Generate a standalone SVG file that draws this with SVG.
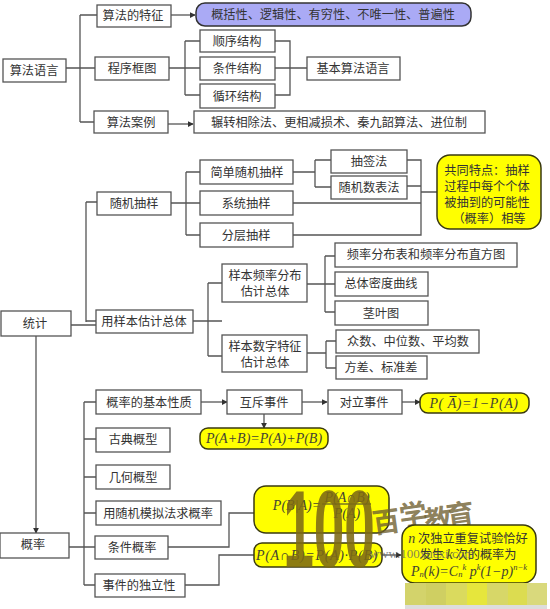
<svg xmlns="http://www.w3.org/2000/svg" width="550" height="609" viewBox="0 0 550 609">
<defs>
<style>
text{font-family:"Noto Sans CJK SC","Liberation Sans",sans-serif;font-size:12.2px;fill:#333;text-anchor:middle;dominant-baseline:central}
.b rect{fill:#fff;stroke:#555;stroke-width:1.3}
.y rect{fill:#ffff00;stroke:#3a3a10;stroke-width:1.5}
.p rect{fill:#aaaaf5;stroke:#333;stroke-width:1.5}
text.m,tspan.m{font-family:"Liberation Serif",serif;font-style:italic;font-size:14px;fill:#443}
tspan.s{font-size:8.5px}
#connectors path{fill:none;stroke:#555;stroke-width:1.3}
.w{fill:#7d6a14;fill-opacity:.88}
.c{fill:#6f6030;fill-opacity:.8;font-size:28px;font-weight:700}
</style>
<marker id="a" viewBox="0 0 8 8" refX="7" refY="4" markerWidth="6" markerHeight="6" markerUnits="userSpaceOnUse" orient="auto"><path d="M0 0L8 4L0 8z" fill="#333"/></marker>
</defs>
<rect width="550" height="609" fill="#fff"/>
<g id="connectors">
<path d="M66 68H95M80 15V122M80 15H97M80 122H94"/>
<path d="M171 15H195" marker-end="url(#a)"/>
<path d="M168 124H193" marker-end="url(#a)"/>
<path d="M169 68H200M185 41V95M185 41H200M185 95H200"/>
<path d="M275 41H290V95H275M275 68H307"/>
<path d="M71 325H96M86 202V322M86 202H97M86 321H96"/>
<path d="M36 336V533" marker-end="url(#a)"/>
<path d="M171 203H200M186 172V235M186 172H200M186 235H200"/>
<path d="M293 172H315M315 160V187M315 160H331M315 187H331"/>
<path d="M407 160H421V235H293M407 186H421M293 203H421M421 192H437"/>
<path d="M193 321H222M208 283V356M208 283H222M208 356H222"/>
<path d="M307 284H335M325 256V312M325 256H335M325 312H335"/>
<path d="M307 353H326M326 341V368M326 341H336M326 368H336"/>
<path d="M69 547H95M84 402V585M84 402H96M84 439H96M84 477H96M84 513H96M84 585H95"/>
<path d="M201 402H227" marker-end="url(#a)"/>
<path d="M302 402H327" marker-end="url(#a)"/>
<path d="M402 402H420" marker-end="url(#a)"/>
<path d="M264 414V428" marker-end="url(#a)"/>
<path d="M168 547H229V513H254"/>
<path d="M185 585H219V555H254"/>
<path d="M382 555H401" marker-end="url(#a)"/>
</g>
<g id="n1" class="b"><rect x="3" y="59" width="63" height="23"/><text x="34" y="70">算法语言</text></g>
<g id="n2" class="b"><rect x="97" y="5" width="74" height="22"/><text x="133" y="15">算法的特征</text></g>
<g id="n3" class="p"><rect x="196" y="3" width="275" height="23" rx="9"/><text x="333" y="14">概括性、逻辑性、有穷性、不唯一性、普遍性</text></g>
<g id="n4" class="b"><rect x="95" y="57" width="74" height="23"/><text x="132" y="68">程序框图</text></g>
<g id="n5" class="b"><rect x="200" y="30" width="75" height="22"/><text x="237" y="41">顺序结构</text></g>
<g id="n6" class="b"><rect x="200" y="57" width="75" height="23"/><text x="237" y="68">条件结构</text></g>
<g id="n7" class="b"><rect x="200" y="84" width="75" height="24"/><text x="237" y="96">循环结构</text></g>
<g id="n8" class="b"><rect x="307" y="57" width="93" height="23"/><text x="353" y="68">基本算法语言</text></g>
<g id="n9" class="b"><rect x="94" y="111" width="74" height="22"/><text x="131" y="122">算法案例</text></g>
<g id="n10" class="b"><rect x="194" y="111" width="291" height="22"/><text x="339" y="122">辗转相除法、更相减损术、秦九韶算法、进位制</text></g>
<g id="n11" class="b"><rect x="1" y="311" width="70" height="25"/><text x="35" y="323">统计</text></g>
<g id="n12" class="b"><rect x="97" y="192" width="74" height="23"/><text x="134" y="203">随机抽样</text></g>
<g id="n13" class="b"><rect x="200" y="160" width="93" height="24"/><text x="247" y="172">简单随机抽样</text></g>
<g id="n14" class="b"><rect x="200" y="191" width="93" height="24"/><text x="246" y="203">系统抽样</text></g>
<g id="n15" class="b"><rect x="200" y="223" width="93" height="24"/><text x="246" y="235">分层抽样</text></g>
<g id="n16" class="b"><rect x="331" y="150" width="76" height="23"/><text x="369" y="161">抽签法</text></g>
<g id="n17" class="b"><rect x="331" y="176" width="76" height="23"/><text x="369" y="187">随机数表法</text></g>
<g id="n18" class="y"><rect x="437" y="155" width="104" height="74" rx="13"/><text x="487" y="170">共同特点：抽样</text><text x="487" y="186">过程中每个个体</text><text x="487" y="202">被抽到的可能性</text><text x="489" y="218">（概率）相等</text></g>
<g id="n19" class="b"><rect x="96" y="310" width="97" height="23"/><text x="144" y="321">用样本估计总体</text></g>
<g id="n20" class="b"><rect x="222" y="264" width="85" height="38"/><text x="265" y="275">样本频率分布</text><text x="265" y="291">估计总体</text></g>
<g id="n21" class="b"><rect x="222" y="335" width="85" height="37"/><text x="265" y="346">样本数字特征</text><text x="265" y="362">估计总体</text></g>
<g id="n22" class="b"><rect x="335" y="243" width="182" height="24"/><text x="426" y="254">频率分布表和频率分布直方图</text></g>
<g id="n23" class="b"><rect x="335" y="272" width="93" height="24"/><text x="381" y="283">总体密度曲线</text></g>
<g id="n24" class="b"><rect x="335" y="301" width="93" height="24"/><text x="381" y="313">茎叶图</text></g>
<g id="n25" class="b"><rect x="336" y="330" width="143" height="23"/><text x="408" y="341">众数、中位数、平均数</text></g>
<g id="n26" class="b"><rect x="336" y="356" width="91" height="23"/><text x="381" y="367">方差、标准差</text></g>
<g id="n27" class="b"><rect x="0" y="533" width="69" height="25"/><text x="33" y="544">概率</text></g>
<g id="n28" class="b"><rect x="96" y="390" width="105" height="24"/><text x="149" y="402">概率的基本性质</text></g>
<g id="n29" class="b"><rect x="96" y="428" width="74" height="24"/><text x="133" y="439">古典概型</text></g>
<g id="n30" class="b"><rect x="96" y="465" width="74" height="24"/><text x="133" y="477">几何概型</text></g>
<g id="n31" class="b"><rect x="96" y="501" width="125" height="24"/><text x="158" y="513">用随机模拟法求概率</text></g>
<g id="n32" class="b"><rect x="95" y="536" width="73" height="23"/><text x="132" y="547">条件概率</text></g>
<g id="n33" class="b"><rect x="95" y="574" width="90" height="23"/><text x="139" y="585">事件的独立性</text></g>
<g id="n34" class="b"><rect x="227" y="390" width="75" height="24"/><text x="264" y="402">互斥事件</text></g>
<g id="n35" class="b"><rect x="328" y="390" width="74" height="24"/><text x="364" y="402">对立事件</text></g>
<g id="n36" class="y"><rect x="420" y="393" width="109" height="20" rx="8"/><text class="m" x="474" y="403" style="letter-spacing:.6px">P( A̅)=1−P(A)</text></g>
<g id="n37" class="y"><rect x="200" y="428" width="128" height="21" rx="8"/><text class="m" x="264" y="438">P(A+B)=P(A)+P(B)</text></g>
<g id="n38" class="y"><rect x="254" y="486" width="135" height="47" rx="12"/><text class="m" x="297" y="505">P(B|A)=</text><text class="m" x="347" y="497">P(A∩B)</text><path d="M322 504H371" stroke="#333" stroke-width="1"/><text class="m" x="347" y="513">P(A)</text></g>
<g id="n39" class="y"><rect x="254" y="543" width="128" height="24" rx="8"/><text class="m" x="317" y="555" style="letter-spacing:.7px">P(A∩B)=P(A)·P(B)</text></g>
<g id="wm2"><text class="c" x="386" y="520" transform="rotate(-8 386 520)">百</text><text class="c" x="413" y="513" transform="rotate(-8 413 513)">学</text><text class="c" x="438" y="518" transform="rotate(-8 438 518)">教</text><text class="c" x="460" y="513" transform="rotate(-8 460 513)">育</text></g>
<g id="n40" class="y"><rect x="402" y="525" width="134" height="58" rx="13"/><text x="468" y="538"><tspan class="m">n</tspan> 次独立重复试验恰好</text><text x="468" y="554">发生 <tspan class="m">k</tspan> 次的概率为</text><text class="m" x="469" y="571">P<tspan class="s" dy="3">n</tspan><tspan dy="-3">(k)=C</tspan><tspan class="s" dy="3">n</tspan><tspan class="s" dy="-7">k</tspan><tspan dy="4"> p</tspan><tspan class="s" dy="-4">k</tspan><tspan dy="4">(1−p)</tspan><tspan class="s" dy="-4">n−k</tspan></text></g>
<g id="watermark">
<text class="w" transform="translate(329 567) scale(1.1 2.2)" style="font-family:'Liberation Sans',sans-serif;font-size:50px;font-weight:700;dominant-baseline:auto">100</text>
<text x="422" y="553" style="font-family:'Liberation Serif',serif;font-size:13px;fill:#666;fill-opacity:.8">www.100xuexi.com</text>
<rect x="405" y="583" width="21" height="22" fill="#d3d36b"/><rect x="426" y="583" width="20" height="22" fill="#cfcf62"/><rect x="446" y="583" width="21" height="22" fill="#dada5e"/><rect x="467" y="583" width="20" height="22" fill="#e6e63c"/><rect x="487" y="583" width="21" height="22" fill="#d7d768"/><rect x="508" y="583" width="19" height="22" fill="#dcdc50"/><rect x="527" y="583" width="20" height="22" fill="#d9d97c"/><rect x="405" y="605" width="142" height="4" fill="#ddd"/>
</g>
</svg>
